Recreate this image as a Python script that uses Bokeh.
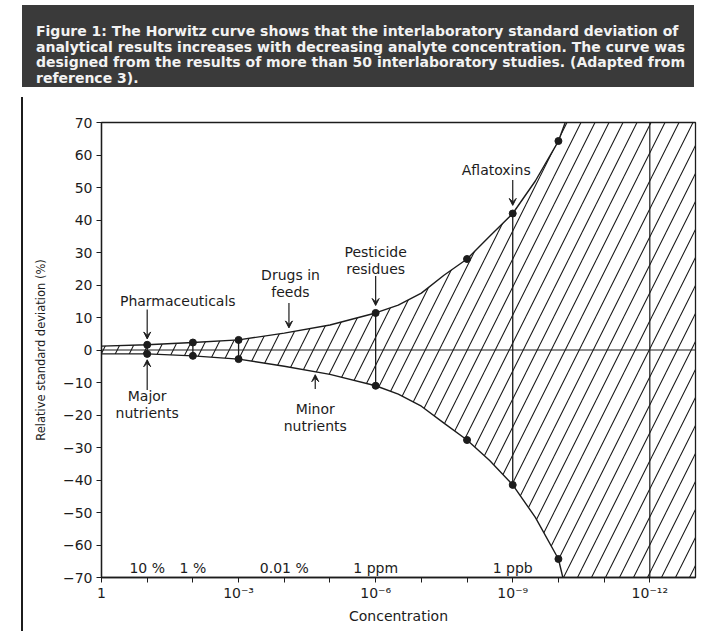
from bokeh.plotting import figure
from bokeh.models import (Range1d, FixedTicker, Span, Arrow, VeeHead, Div, Spacer,
                          ColumnDataSource)
from bokeh.layouts import column, row
from bokeh.core.properties import value
from bokeh.embed import file_html
from bokeh.resources import INLINE

# ---------------- data ----------------
header_lines = [
    "Figure 1: The Horwitz curve shows that the interlaboratory standard deviation of",
    "analytical results increases with decreasing analyte concentration. The curve was",
    "designed from the results of more than 50 interlaboratory studies. (Adapted from",
    "reference 3).",
]

# Horwitz "trumpet" envelope (concentration as mass fraction, RSD in %)
upper_conc = [1, 1e-1, 1e-2, 1e-3, 1e-4, 1e-5, 1e-6, 3.2e-7, 1e-7, 3.2e-8, 1e-8,
              3.2e-9, 1e-9, 3.2e-10, 1e-10, 7.1e-11]
upper_rsd = [1.2, 1.6, 2.3, 3.1, 5.2, 7.7, 11.4, 13.8, 17.5, 23.0, 28.0,
             35.0, 42.0, 52.0, 64.3, 70.0]
lower_conc = [1, 1e-1, 1e-2, 1e-3, 1e-4, 1e-5, 1e-6, 3.2e-7, 1e-7, 3.2e-8, 1e-8,
              3.2e-9, 1e-9, 3.2e-10, 1e-10, 8.0e-11]
lower_rsd = [-1.2, -1.2, -1.8, -2.8, -5.0, -7.5, -11.0, -13.6, -17.3, -22.5, -27.7,
             -34.0, -41.5, -51.5, -64.3, -70.0]

# interlaboratory study points
study_conc = [1e-1, 1e-2, 1e-3, 1e-6, 1e-8, 1e-9, 1e-10]
study_upper = [1.6, 2.3, 3.1, 11.4, 28.0, 42.0, 64.3]
study_lower = [-1.2, -1.8, -2.8, -11.0, -27.7, -41.5, -64.3]
study_linked = [True, True, True, True, False, True, False]

# concentration names written along the x axis
band_labels = ["10 %", "1 %", "0.01 %", "1 ppm", "1 ppb"]
band_conc = [1e-1, 1e-2, 1e-4, 1e-6, 1e-9]

# axes
xtick_vals = [1, 1e-3, 1e-6, 1e-9, 1e-12]
xtick_labels = ["1", "10\u207b\u00b3", "10\u207b\u2076", "10\u207b\u2079", "10\u207b\u00b9\u00b2"]
xminor_vals = [1e-1, 1e-2, 1e-4, 1e-5, 1e-7, 1e-8, 1e-10, 1e-11]
ytick_vals = [-70, -60, -50, -40, -30, -20, -10, 0, 10, 20, 30, 40, 50, 60, 70]
detection_limit = 1e-12

# ---------------- styling ----------------
INK = "#1c1c1c"
FONT = "DejaVu Sans"

p = figure(width=669, height=534, x_axis_type="log",
           x_range=Range1d(1, 1e-13), y_range=Range1d(-70, 70),
           output_backend="svg", toolbar_location=None,
           min_border_left=73, min_border_right=2, min_border_top=30, min_border_bottom=48)
p.background_fill_color = "white"
p.border_fill_color = "white"
p.outline_line_color = INK
p.outline_line_width = 1.3
p.grid.visible = False

# hatched region (inside the curve and beyond it to the right)
hx = upper_conc + [1e-13, 1e-13] + lower_conc[::-1]
hy = upper_rsd + [70, -70] + lower_rsd[::-1]
p.patch(hx, hy, fill_alpha=0, line_color=None,
        hatch_pattern="/", hatch_scale=28, hatch_weight=1.1, hatch_color=INK)

p.add_layout(Span(location=0, dimension="width", line_color=INK, line_width=1.2))
p.add_layout(Span(location=detection_limit, dimension="height", line_color=INK, line_width=1.2))

p.line(upper_conc, upper_rsd, line_color=INK, line_width=1.4)
p.line(lower_conc, lower_rsd, line_color=INK, line_width=1.4)

seg_x = [c for c, k in zip(study_conc, study_linked) if k]
seg_y0 = [v for v, k in zip(study_lower, study_linked) if k]
seg_y1 = [v for v, k in zip(study_upper, study_linked) if k]
p.segment(x0=seg_x, y0=seg_y0, x1=seg_x, y1=seg_y1, line_color=INK, line_width=1.3)

p.scatter(study_conc + study_conc, study_upper + study_lower, size=7,
          fill_color=INK, line_color=INK)

# annotations
ann = ColumnDataSource(dict(
    x=[0.0214, 7.3e-5, 1e-6, 2.3e-9, 0.1, 2.1e-5],
    y=[15.0, 20.4, 27.5, 55.3, -16.7, -20.7],
    t=["Pharmaceuticals", "Drugs in\nfeeds", "Pesticide\nresidues", "Aflatoxins",
       "Major\nnutrients", "Minor\nnutrients"]))
p.text(x="x", y="y", text="t", source=ann, text_font=value(FONT), text_font_size="14px",
       text_color=INK, text_align="center", text_baseline="middle", text_line_height=1.05)

p.text(x=band_conc, y=[-67.2] * len(band_conc), text=band_labels, text_font=value(FONT),
       text_font_size="14px", text_color=INK, text_align="center", text_baseline="middle")

arrows = [(0.1, 12.5, 0.1, 3.4), (0.1, -12.3, 0.1, -3.0), (7.9e-5, 14.5, 7.9e-5, 6.8),
          (1e-6, 22.8, 1e-6, 13.7), (1e-9, 52.3, 1e-9, 44.5), (2.1e-5, -12.0, 2.1e-5, -7.6)]
for xs, ys, xe, ye in arrows:
    p.add_layout(Arrow(x_start=xs, y_start=ys, x_end=xe, y_end=ye, line_color=INK, line_width=1.2,
                       end=VeeHead(size=7, fill_color=INK, line_color=INK, line_width=1)))

# axes
xa = p.xaxis[0]
xa.ticker = FixedTicker(ticks=xtick_vals, minor_ticks=xminor_vals)
xa.major_label_overrides = {v: l for v, l in zip(xtick_vals, xtick_labels)}
xa.axis_label = "Concentration"
ya = p.yaxis[0]
ya.ticker = FixedTicker(ticks=ytick_vals)
ya.major_label_overrides = {v: ("\u2212" + str(-v) if v < 0 else str(v)) for v in ytick_vals}
ya.axis_label = "Relative standard deviation (%)"

for a in (xa, ya):
    a.axis_line_color = INK
    a.axis_line_width = 1.3
    a.major_tick_line_color = INK
    a.minor_tick_line_color = INK
    a.major_tick_in = 0
    a.major_tick_out = 5
    a.minor_tick_in = 0
    a.minor_tick_out = 5
    a.major_label_text_font = FONT
    a.major_label_text_color = INK
    a.major_label_text_font_size = "14px"
    a.axis_label_text_font = FONT
    a.axis_label_text_font_style = "normal"
    a.axis_label_text_color = INK
xa.major_label_standoff = 2
xa.axis_label_standoff = 4
xa.axis_label_text_font_size = "14px"
ya.minor_tick_line_color = None
ya.major_label_standoff = 4
ya.axis_label_standoff = 12
ya.axis_label_text_font_size = "11.5px"

header_html = (
    '<div style="box-sizing:border-box;width:672px;height:82px;background:#3a3a3a;color:#f2f2f2;'
    "font-family:'DejaVu Sans';font-weight:bold;font-size:14px;line-height:15.5px;"
    'padding:19px 2px 0 14px;white-space:nowrap;overflow:hidden;">'
    + "<br>".join(header_lines) + "</div>")
header = Div(text=header_html, width=672, height=82)
page_line = Div(text='<div style="width:1.6px;height:534px;background:#1c1c1c;"></div>',
                width=2, height=534)

layout = column(row(Spacer(width=17, height=82), header),
                row(Spacer(width=16, height=534), page_line, p))

open("out.html", "w").write(file_html(layout, INLINE))
